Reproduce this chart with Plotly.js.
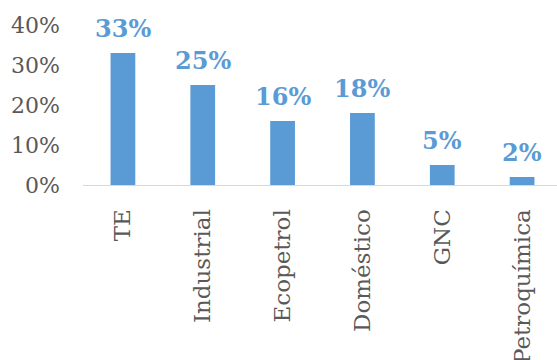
<!DOCTYPE html>
<html><head><meta charset="utf-8">
<script src="https://cdn.plot.ly/plotly-3.0.1.min.js"></script>
<style>html,body{margin:0;padding:0;overflow:hidden;background:#fff}</style>
</head><body><div id="chart" style="width:562px;height:360px"></div>
<script>
const categories = ["TE", "Industrial", "Ecopetrol", "Doméstico", "GNC", "Petroquímica"];
const shares = [0.33, 0.25, 0.16, 0.18, 0.05, 0.02];
const labels = ["33%", "25%", "16%", "18%", "5%", "2%"];
const yTickVals = [0, 0.1, 0.2, 0.3, 0.4];
const yTickText = ["0%", "10%", "20%", "30%", "40%"];

const blue = "#5B9BD5";
const trace = {
  type: "bar", x: categories, y: shares,
  marker: {color: blue}, hoverinfo: "none"
};
const annotations = categories.map((c, i) => ({
  x: c, y: shares[i], xref: "x", yref: "y", text: labels[i],
  showarrow: false, yanchor: "bottom", yshift: 8,
  font: {family: "DejaVu Serif", size: 24, color: blue, weight: "bold"}
}));
const layout = {
  width: 562, height: 360,
  margin: {l: 83, r: 0, t: 25, b: 175},
  paper_bgcolor: "#fff", plot_bgcolor: "#fff",
  showlegend: false, bargap: 0.69,
  xaxis: {
    type: "category", showline: true, linecolor: "#d9d9d9", linewidth: 1,
    ticks: "", tickangle: -90, ticklabelstandoff: 14,
    tickfont: {family: "DejaVu Serif", size: 23, color: "#595959"}
  },
  yaxis: {
    range: [0, 0.4], tickvals: yTickVals, ticktext: yTickText,
    showgrid: false, zeroline: false, showline: false, ticks: "",
    ticklabelstandoff: 22,
    tickfont: {family: "DejaVu Serif", size: 22, color: "#595959"}
  },
  annotations: annotations
};
Plotly.newPlot("chart", [trace], layout, {displayModeBar: false, staticPlot: true});
</script></body></html>
